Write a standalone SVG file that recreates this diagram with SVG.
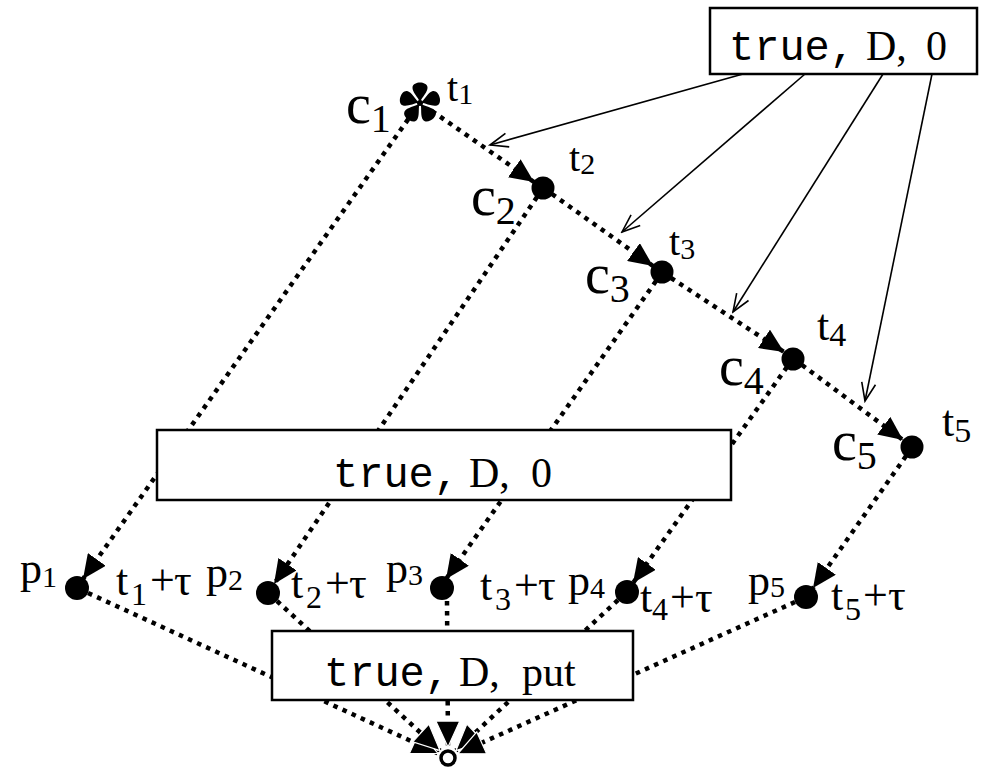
<svg xmlns="http://www.w3.org/2000/svg" width="986" height="769" viewBox="0 0 986 769">
<defs>
<marker id="tri" markerUnits="userSpaceOnUse" viewBox="0 0 24 22" markerWidth="24" markerHeight="22" refX="24" refY="11" orient="auto"><path d="M0,0 L24,11 L0,22 z" fill="#000"/></marker>
<marker id="triw" markerUnits="userSpaceOnUse" viewBox="-1 -1 28 26" markerWidth="28" markerHeight="26" refX="26" refY="12" orient="auto"><path d="M0,0 L26,12 L0,24 z" fill="#000" stroke="#fff" stroke-width="1.2"/></marker>
<marker id="open" markerUnits="userSpaceOnUse" viewBox="-2 -2 22 18" markerWidth="22" markerHeight="18" refX="18" refY="7" orient="auto"><path d="M0,0 L18,7 L0,14" fill="none" stroke="#000" stroke-width="1.6"/></marker>
<path id="petal" d="M0,-1 C-2,-6 -8,-11 -7.5,-16 C-6.5,-22 6.5,-22 7.5,-16 C8,-11 2,-6 0,-1 z"/>
</defs>
<style>
.dot{stroke:#000;stroke-width:4.5;stroke-dasharray:4.5 5.5;fill:none}
.thin{stroke:#000;stroke-width:1.6;fill:none}
.box{fill:#fff;stroke:#000;stroke-width:2.5}
.mono{font-family:"Liberation Mono","Courier New",monospace}
text{font-family:"Liberation Serif","Times New Roman",serif;fill:#000}
.node{fill:#000}
</style>
<rect width="986" height="769" fill="#fff"/>
<g id="connectors">
  <line class="dot" x1="414" y1="111" x2="83" y2="579" marker-end="url(#tri)"/>
  <line class="dot" x1="537" y1="197" x2="274" y2="584" marker-end="url(#tri)"/>
  <line class="dot" x1="656" y1="281" x2="446" y2="579" marker-end="url(#tri)"/>
  <line class="dot" x1="787" y1="367" x2="633" y2="583" marker-end="url(#tri)"/>
  <line class="dot" x1="906" y1="456" x2="813" y2="588" marker-end="url(#tri)"/>
  <line class="dot" x1="432" y1="111" x2="534" y2="182" marker-end="url(#tri)"/>
  <line class="dot" x1="552" y1="194" x2="653" y2="266" marker-end="url(#tri)"/>
  <line class="dot" x1="671" y1="278" x2="784" y2="352" marker-end="url(#tri)"/>
  <line class="dot" x1="802" y1="365" x2="903" y2="440" marker-end="url(#tri)"/>
  <line class="thin" x1="743" y1="74" x2="490" y2="145" marker-end="url(#open)"/>
  <line class="thin" x1="805" y1="74" x2="622" y2="232" marker-end="url(#open)"/>
  <line class="thin" x1="883" y1="74" x2="733" y2="312" marker-end="url(#open)"/>
  <line class="thin" x1="932" y1="74" x2="865" y2="401" marker-end="url(#open)"/>
  <line class="dot" x1="88" y1="593" x2="438" y2="753.4" marker-end="url(#triw)"/>
  <line class="dot" x1="277" y1="601" x2="440" y2="750.6" marker-end="url(#triw)"/>
  <line class="dot" x1="447" y1="601" x2="448" y2="747" marker-end="url(#triw)"/>
  <line class="dot" x1="618" y1="600" x2="456" y2="750.5" marker-end="url(#triw)"/>
  <line class="dot" x1="795" y1="602" x2="458" y2="753.5" marker-end="url(#triw)"/>
</g>
<g id="box-top">
  <rect class="box" x="710" y="8" width="267" height="66" stroke-width="2"/>
  <text y="60" font-size="42"><tspan class="mono" x="729">true,</tspan><tspan x="866">D,</tspan><tspan x="926">0</tspan></text>
</g>
<g id="box-mid">
  <rect class="box" x="157" y="430" width="574" height="70"/>
  <text y="487" font-size="42"><tspan class="mono" x="333">true,</tspan><tspan x="469">D,</tspan><tspan x="531">0</tspan></text>
</g>
<g id="c1">
  <g transform="translate(420,103)" fill="#000">
    <use href="#petal"/>
    <use href="#petal" transform="rotate(72)"/>
    <use href="#petal" transform="rotate(144)"/>
    <use href="#petal" transform="rotate(216)"/>
    <use href="#petal" transform="rotate(288)"/>
    <circle r="3"/>
  </g>
  <text x="346" y="123" font-size="56">c<tspan font-size="40" dy="9">1</tspan></text>
  <text x="447" y="101" font-size="40">t<tspan font-size="30" dy="3">1</tspan></text>
</g>
<g id="c2">
  <circle class="node" cx="543" cy="188" r="11.5"/>
  <text x="471" y="215" font-size="56">c<tspan font-size="40" dy="9">2</tspan></text>
  <text x="569" y="171" font-size="40">t<tspan font-size="30" dy="3">2</tspan></text>
</g>
<g id="c3">
  <circle class="node" cx="662" cy="272" r="11.5"/>
  <text x="585" y="293" font-size="56">c<tspan font-size="40" dy="9">3</tspan></text>
  <text x="669" y="255" font-size="40">t<tspan font-size="30" dy="4">3</tspan></text>
</g>
<g id="c4">
  <circle class="node" cx="793" cy="359" r="11.5"/>
  <text x="719" y="385" font-size="56">c<tspan font-size="40" dy="9">4</tspan></text>
  <text x="817" y="340" font-size="44">t<tspan font-size="34" dy="6">4</tspan></text>
</g>
<g id="c5">
  <circle class="node" cx="912" cy="447" r="11.5"/>
  <text x="832" y="460" font-size="56">c<tspan font-size="40" dy="9">5</tspan></text>
  <text x="942" y="436" font-size="44">t<tspan font-size="34" dy="6">5</tspan></text>
</g>
<g id="p1">
  <circle class="node" cx="77" cy="588" r="12"/>
  <text x="20" y="583" font-size="44">p<tspan font-size="30" dy="4">1</tspan></text>
  <text y="595" font-size="44"><tspan x="116">t</tspan><tspan x="131" font-size="32" dy="10">1</tspan><tspan x="150" dy="-10">+</tspan><tspan x="174">τ</tspan></text>
</g>
<g id="p2">
  <circle class="node" cx="268" cy="593" r="12"/>
  <text x="206" y="587" font-size="44">p<tspan font-size="30" dy="3">2</tspan></text>
  <text y="598" font-size="44"><tspan x="291">t</tspan><tspan x="306" font-size="32" dy="10">2</tspan><tspan x="325" dy="-10">+</tspan><tspan x="349">τ</tspan></text>
</g>
<g id="p3">
  <circle class="node" cx="442" cy="588" r="12"/>
  <text x="386" y="583" font-size="44">p<tspan font-size="30" dy="2">3</tspan></text>
  <text y="600" font-size="44"><tspan x="480">t</tspan><tspan x="495" font-size="32" dy="10">3</tspan><tspan x="514" dy="-10">+</tspan><tspan x="538">τ</tspan></text>
</g>
<g id="p4">
  <circle class="node" cx="627" cy="592" r="12"/>
  <text x="568" y="595" font-size="44">p<tspan font-size="30" dy="3">4</tspan></text>
  <text y="612" font-size="44"><tspan x="640">t</tspan><tspan x="652" font-size="32" dy="8">4</tspan><tspan x="670" dy="-8">+</tspan><tspan x="695">τ</tspan></text>
</g>
<g id="p5">
  <circle class="node" cx="806" cy="597" r="12"/>
  <text x="748" y="595" font-size="44">p<tspan font-size="30" dy="2">5</tspan></text>
  <text y="610" font-size="44"><tspan x="831">t</tspan><tspan x="845" font-size="32" dy="10">5</tspan><tspan x="863" dy="-10">+</tspan><tspan x="888">τ</tspan></text>
</g>
<g id="box-bottom">
  <rect class="box" x="272" y="631" width="361" height="69"/>
  <text y="686" font-size="42"><tspan class="mono" x="324">true,</tspan><tspan x="459">D,</tspan><tspan x="522">put</tspan></text>
</g>
<g id="sink">
  <circle cx="448" cy="758" r="7" fill="#fff" stroke="#000" stroke-width="3.5"/>
</g>
</svg>
